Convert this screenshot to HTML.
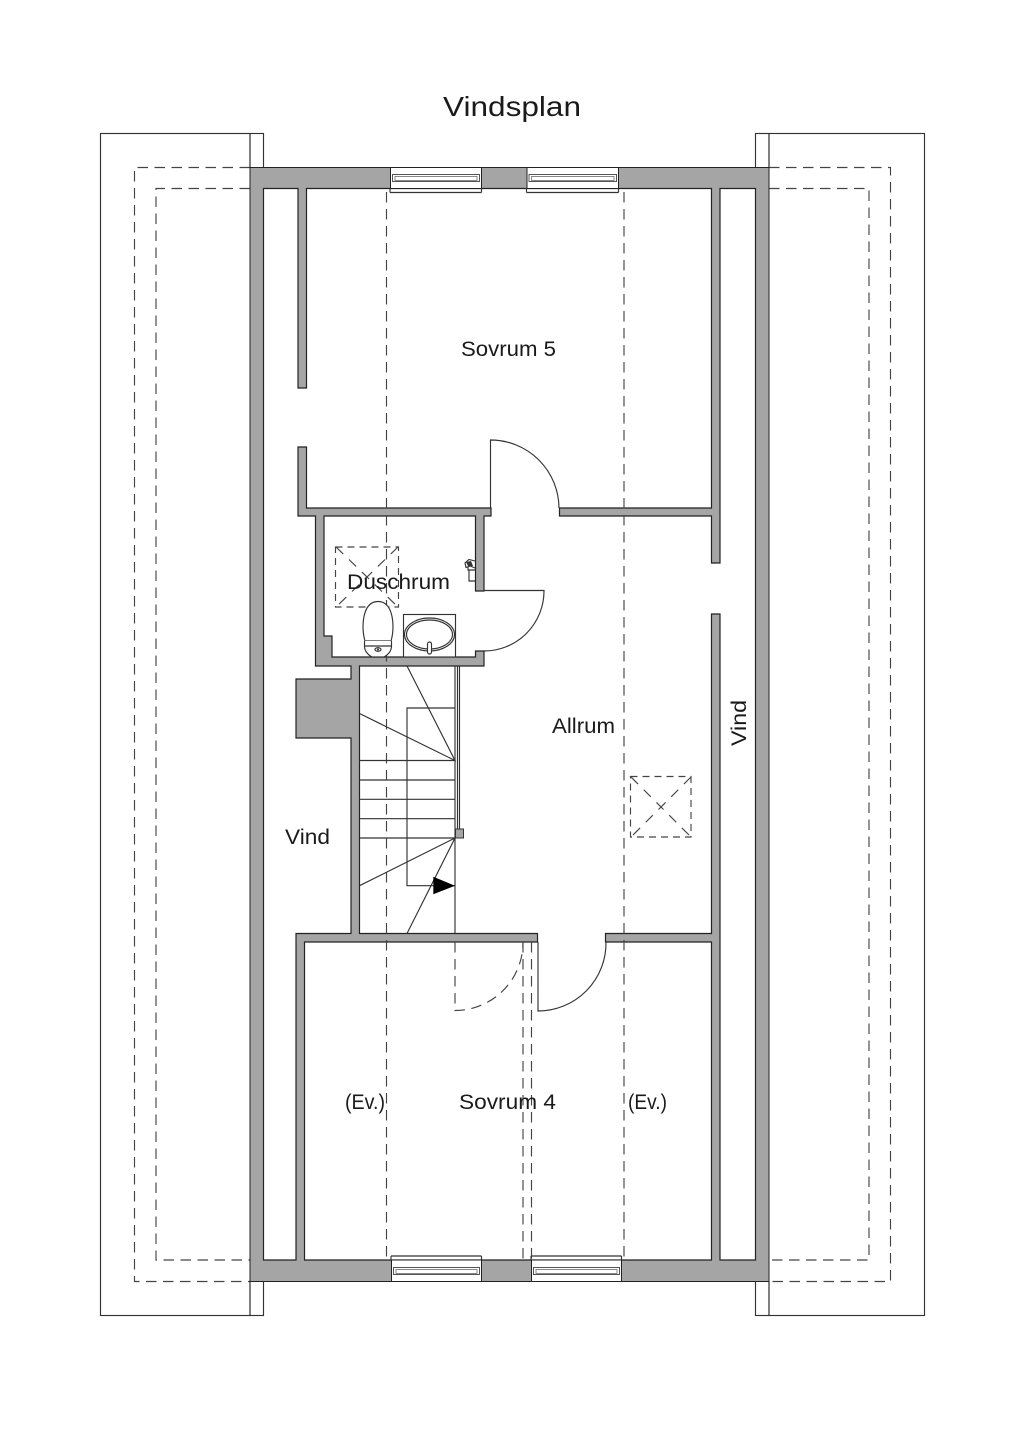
<!DOCTYPE html>
<html lang="sv">
<head>
<meta charset="utf-8">
<title>Vindsplan</title>
<style>
html,body{margin:0;padding:0;background:#fff}
svg{display:block}
text{font-family:"Liberation Sans",sans-serif;fill:#1a1a1a}
.t{font-size:21px}
.l{fill:none;stroke:#333;stroke-width:1.15}
.d{fill:none;stroke:#444;stroke-width:1.15;stroke-dasharray:10.5 6.5}
.w1{fill:#fff;stroke:#555;stroke-width:1}
.w2{fill:#fff;stroke:#888;stroke-width:1}
.g{fill:#a5a5a5}
</style>
</head>
<body>
<svg width="1024" height="1448" viewBox="0 0 1024 1448" xmlns="http://www.w3.org/2000/svg">
<rect width="1024" height="1448" fill="#fff"/>

<!-- Roof outlines -->
<rect class="l" x="100.5" y="133.5" width="163" height="1182"/>
<rect class="l" x="755.5" y="133.5" width="169" height="1182"/>
<line class="l" x1="250" y1="133.5" x2="250" y2="168" style="stroke:#222"/>
<line class="l" x1="250" y1="1281" x2="250" y2="1315.5" style="stroke:#222"/>
<line class="l" x1="769" y1="133.5" x2="769" y2="168" style="stroke:#222"/>
<line class="l" x1="769" y1="1281" x2="769" y2="1315.5" style="stroke:#222"/>

<!-- Roof dashed -->
<path class="d" d="M250 167.5H134.5V1281.5H250"/>
<path class="d" d="M250 188.5H156V1260H250"/>
<path class="d" d="M769 167.5H890.5V1281.5H769"/>
<path class="d" d="M769 188.5H869V1260H769"/>

<!-- Walls -->
<rect class="g" x="250" y="167.5" width="519" height="1114" stroke="#222" stroke-width="1"/>
<path fill="#fff" stroke="#222" stroke-width="1.2" d="M263.5 188.5H298V388H306.5V188.5H711.5V508H559.5V516H711.5V563H720V188.5H755.5V1260H720V614H711.5V933.5H605.5V942H711.5V1260H304.5V942H537.5V933.5H359.5V666H484V651H475.5V657H332V636H324V516H475.5V591H484V516H491V508H306.5V447H298V516H315.5V666H351V679H296V738H351V933.5H296V1260H263.5Z"/>

<!-- Ridge / ceiling dashed lines -->
<line class="d" x1="386.5" y1="192" x2="386.5" y2="1260"/>
<line class="d" x1="624" y1="192" x2="624" y2="1260"/>
<line class="d" x1="523" y1="942" x2="523" y2="1260"/>
<line class="d" x1="531.5" y1="942" x2="531.5" y2="1260"/>

<!-- Windows top -->
<g>
<rect x="390.5" y="167.5" width="91" height="21" fill="#fff" stroke="#222"/>
<path class="l" d="M390 192.5H481.5M390 188V192.5M481.5 188V192.5"/>
<rect class="w1" x="392.5" y="174.5" width="87" height="7"/>
<rect class="w2" x="395" y="176.5" width="82" height="4"/>
<rect x="527" y="167.5" width="91.5" height="21" fill="#fff" stroke="#222"/>
<path class="l" d="M526.5 192.5H618.5M526.5 188V192.5M618.5 188V192.5"/>
<rect class="w1" x="529" y="174.5" width="87.5" height="7"/>
<rect class="w2" x="531.5" y="176.5" width="82.5" height="4"/>
</g>
<!-- Windows bottom -->
<g>
<rect x="391.5" y="1260" width="90" height="21.5" fill="#fff" stroke="#222"/>
<path class="l" d="M391 1256H481.5M391 1256V1260M481.5 1256V1260"/>
<rect class="w1" x="393.5" y="1267.5" width="86" height="7"/>
<rect class="w2" x="396" y="1269.5" width="81" height="4"/>
<rect x="531.5" y="1260" width="90" height="21.5" fill="#fff" stroke="#222"/>
<path class="l" d="M531 1256H621.5M531 1256V1260M621.5 1256V1260"/>
<rect class="w1" x="533.5" y="1267.5" width="86" height="7"/>
<rect class="w2" x="536" y="1269.5" width="81" height="4"/>
</g>

<!-- Doors -->
<path class="l" d="M490.5 508V440A68.5 68.5 0 0 1 559 508"/>
<path class="l" d="M484 590.5H544A60 60 0 0 1 484 651"/>
<path class="l" d="M538 942V1011A68 68 0 0 0 606 942"/>
<path class="d" d="M455 942V1010.5A68 68 0 0 0 523 942"/>

<!-- Stairs -->
<path class="l" d="M455 666V933.5M457.5 666V829M459.5 666V829"/>
<rect x="455.5" y="829" width="8" height="9" class="g" stroke="#333"/>
<path class="l" d="M359.5 760.5H455M359.5 780H455M359.5 799.3H455M359.5 818.7H455M359.5 838H455"/>
<path class="l" d="M407 666L455 760.5L359.5 713.5M359.5 885.7L455 838L407 933.5"/>
<path class="l" d="M455 708H407V885.7H455"/>
<path d="M433.3 876.7V894.3L455 885.7Z" fill="#000"/>

<!-- Skylights -->
<rect class="d" x="335.5" y="547" width="63" height="60" style="stroke-dasharray:7 5"/>
<path class="d" d="M336 547L398 607M398 547L336 607" style="stroke-dasharray:10 8"/>
<rect class="d" x="630.5" y="776.5" width="60.5" height="60.5" style="stroke-dasharray:7 5"/>
<path class="d" d="M631 777L691 837M691 777L631 837" style="stroke-dasharray:10 8"/>

<!-- Toilet -->
<path class="l" d="M365 641C361 628 362 601.5 378 601.5C394 601.5 395 628 391 641Z" fill="#fff" style="fill:#fff"/>
<path class="l" d="M364.5 641L364.5 646H391.5V641M364.5 646C364.5 651 368 655 372 657H384C388 655 391.5 651 391.5 646" style="fill:#fff"/>
<ellipse class="l" cx="378" cy="649.5" rx="3" ry="1.8"/>
<circle cx="378" cy="649.5" r="1" fill="#222"/>

<!-- Sink -->
<rect class="l" x="403.5" y="614.5" width="52" height="42.5" style="fill:#fff"/>
<ellipse class="l" cx="429.5" cy="634.5" rx="25" ry="16.5"/>
<ellipse class="l" cx="429.5" cy="634.5" rx="23" ry="14.5"/>
<rect class="l" x="427.5" y="642" width="4" height="12" rx="2" style="fill:#fff"/>

<!-- Shower tap -->
<path class="l" d="M475 561L469 559.5L465 563L466 567.5L470 566L475 568M468 567V570H475M469 570V581H475"/>
<path d="M466 562L471 561L473 566L468 566Z" fill="#333"/>

<!-- Labels -->
<text x="443" y="116" font-size="28" textLength="138" lengthAdjust="spacingAndGlyphs">Vindsplan</text>
<text class="t" x="461" y="356" textLength="95" lengthAdjust="spacingAndGlyphs">Sovrum 5</text>
<text class="t" x="347" y="589" textLength="103" lengthAdjust="spacingAndGlyphs">Duschrum</text>
<text class="t" x="552" y="733" textLength="63" lengthAdjust="spacingAndGlyphs">Allrum</text>
<text class="t" x="285" y="844" textLength="45" lengthAdjust="spacingAndGlyphs">Vind</text>
<text class="t" transform="translate(746 746) rotate(-90)" x="0" y="0" textLength="46" lengthAdjust="spacingAndGlyphs">Vind</text>
<text class="t" x="345" y="1109" textLength="40" lengthAdjust="spacingAndGlyphs">(Ev.)</text>
<text class="t" x="459" y="1109" textLength="97" lengthAdjust="spacingAndGlyphs">Sovrum 4</text>
<text class="t" x="628" y="1109" textLength="39" lengthAdjust="spacingAndGlyphs">(Ev.)</text>
</svg>
</body>
</html>
